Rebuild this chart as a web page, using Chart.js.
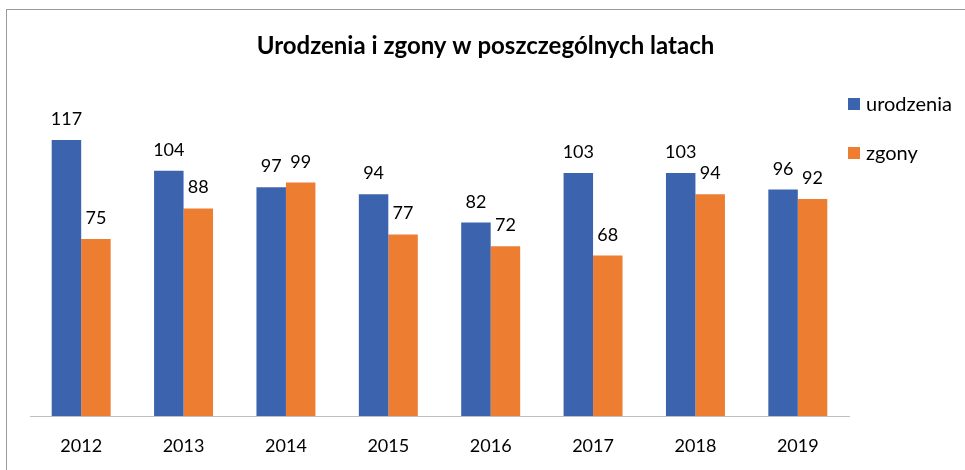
<!DOCTYPE html>
<html>
<head>
<meta charset="utf-8">
<script src="https://cdn.jsdelivr.net/npm/chart.js@4"></script>
<style>
html,body{margin:0;padding:0;background:#fff;}
#wrap{width:965px;height:470px;position:relative;}
</style>
</head>
<body>
<div id="wrap"><canvas id="c" width="965" height="470"></canvas></div>
<script>
const years = ['2012','2013','2014','2015','2016','2017','2018','2019'];
const urodzenia = [117,104,97,94,82,103,103,96];
const zgony = [75,88,99,77,72,68,94,92];
const seriesNames = ['urodzenia','zgony'];
const titleText = 'Urodzenia i zgony w poszczególnych latach';

const FONT = 'Lato, "Open Sans", sans-serif';

const borderPlugin = {
  id: 'border',
  beforeDraw(chart){
    const ctx = chart.ctx;
    ctx.save();
    ctx.fillStyle = '#fff';
    ctx.fillRect(0,0,chart.width,chart.height);
    ctx.strokeStyle = '#9a9a9a';
    ctx.lineWidth = 1;
    ctx.strokeRect(6.5, 9.5, 2000, 2000);
    ctx.restore();
  }
};

const labelPlugin = {
  id: 'valueLabels',
  afterDatasetsDraw(chart){
    const ctx = chart.ctx;
    ctx.save();
    ctx.font = '18px ' + FONT;
    ctx.fillStyle = '#000';
    ctx.textAlign = 'center';
    ctx.textBaseline = 'alphabetic';
    chart.data.datasets.forEach((ds, di) => {
      const meta = chart.getDatasetMeta(di);
      meta.data.forEach((bar, i) => {
        ctx.fillText(String(ds.data[i]), bar.x, bar.y - 15);
      });
    });
    ctx.restore();
  }
};

const legendPlugin = {
  id: 'sideLegend',
  afterDraw(chart){
    const ctx = chart.ctx;
    const x0 = chart.chartArea.right - 1;
    const ys = [104, 153];
    ctx.save();
    ctx.font = '20px ' + FONT;
    ctx.textBaseline = 'middle';
    ctx.textAlign = 'left';
    chart.data.datasets.forEach((ds, di) => {
      ctx.fillStyle = ds.backgroundColor;
      ctx.fillRect(x0, ys[di] - 6, 12, 12);
      ctx.fillStyle = '#000';
      ctx.fillText(ds.label, x0 + 18, ys[di] + 1);
    });
    ctx.restore();
  }
};

new Chart(document.getElementById('c'), {
  type: 'bar',
  data: {
    labels: years,
    datasets: [
      {label: seriesNames[0], data: urodzenia, backgroundColor: '#3C63AD'},
      {label: seriesNames[1], data: zgony, backgroundColor: '#ED7D31'}
    ]
  },
  options: {
    responsive: false,
    animation: false,
    devicePixelRatio: 1,
    layout: {padding: {left: 6, right: 0, top: 9, bottom: 0}},
    datasets: {bar: {categoryPercentage: 0.576, barPercentage: 1.0}},
    plugins: {
      legend: {display: false},
      tooltip: {enabled: false},
      title: {
        display: true,
        text: titleText,
        color: '#000',
        font: {family: FONT, size: 24, weight: 'bold', lineHeight: 1.2},
        padding: {top: 23, bottom: 25}
      }
    },
    scales: {
      y: {
        display: true, min: 0, max: 140, position: 'left',
        grid: {display: false}, border: {display: false}, ticks: {display: false},
        afterFit(s){ s.width = 24; }
      },
      yr: {
        display: true, min: 0, max: 140, position: 'right',
        grid: {display: false}, border: {display: false}, ticks: {display: false},
        afterFit(s){ s.width = 116; }
      },
      x: {
        grid: {display: false, drawTicks: false},
        border: {display: true, color: '#BFBFBF', width: 1},
        ticks: {color: '#000', font: {family: FONT, size: 18}, padding: 19},
        afterFit(s){ s.height = 54; }
      }
    }
  },
  plugins: [borderPlugin, labelPlugin, legendPlugin]
});
</script>
</body>
</html>
